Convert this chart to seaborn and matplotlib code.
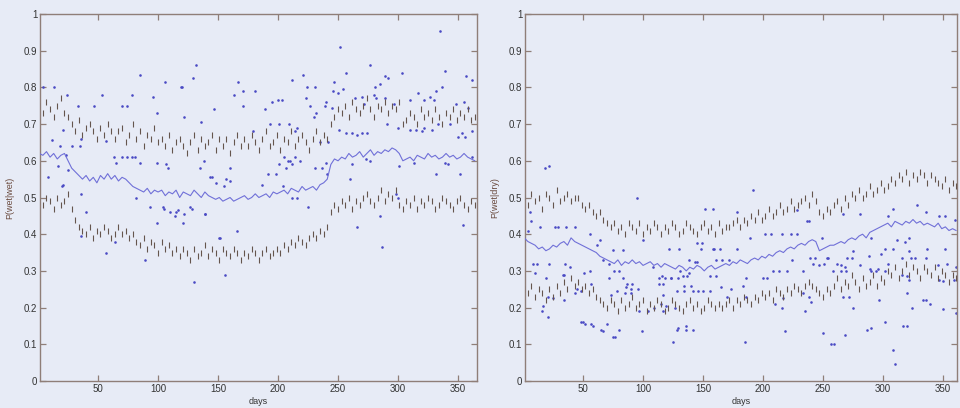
import numpy as np
import pandas as pd
import matplotlib
matplotlib.use("Agg")
import matplotlib.pyplot as plt
import seaborn as sns

# ---------------- data ----------------
STEP = 3  # bound / mean series sampled every 3 days starting at day 1

left_upper = [0.75,0.73,0.76,0.74,0.72,0.75,0.77,0.73,0.72,
              0.70,0.68,0.71,0.67,0.69,0.70,0.68,0.66,0.69,0.67,0.70,0.68,
              0.66,0.68,0.69,0.65,0.67,0.70,0.66,0.68,0.64,0.67,0.66,0.69,0.65,
              0.66,0.64,0.67,0.63,0.65,0.66,0.64,0.62,0.65,0.67,0.63,0.66,0.64,0.65,0.67,0.63,0.66,0.64,0.66,0.62,0.65,0.67,0.64,
              0.66,0.64,0.67,0.65,0.63,0.66,0.68,0.64,0.65,0.67,0.63,0.66,0.65,0.68,0.64,0.66,0.67,0.65,0.63,0.66,0.68,0.65,0.67,0.66,
              0.70,0.72,0.74,0.73,0.75,0.72,0.76,0.74,0.73,0.75,0.77,0.74,0.72,0.75,0.74,0.76,0.73,0.75,0.74,0.76,
              0.70,0.71,0.73,0.72,0.70,0.74,0.72,0.73,0.71,0.74,0.72,0.70,0.73,0.72,0.74,0.71,0.73,0.72,0.74,0.71,0.72]

left_mean = [0.62,0.615,0.625,0.61,0.62,0.605,0.615,0.62,0.60,
             0.58,0.57,0.56,
             0.55,0.56,0.545,0.555,0.54,0.56,0.55,0.565,0.55,0.56,0.545,0.555,0.55,
             0.54,0.53,0.525,0.52,0.515,0.525,0.51,0.52,0.515,
             0.52,0.505,0.515,0.51,0.52,0.50,0.515,0.51,0.505,0.52,0.51,0.50,0.515,
             0.505,0.50,0.495,0.50,0.49,0.495,0.50,0.49,0.495,0.50,0.505,0.495,0.50,0.51,0.50,0.505,0.51,0.50,0.515,0.51,
             0.515,0.52,0.51,0.525,0.52,0.515,0.53,0.52,0.525,0.53,0.52,0.535,0.54,0.55,
             0.59,0.605,0.60,0.61,0.605,0.62,0.61,0.615,0.625,0.61,0.62,0.63,0.615,0.625,0.62,0.63,0.625,0.635,0.63,
             0.62,0.60,0.605,0.61,0.60,0.615,0.61,0.605,0.62,0.61,0.615,0.605,0.61,0.62,0.61,0.615,0.605,0.61,0.62,0.61,0.605,0.60]

left_lower = [0.49,0.48,0.50,0.49,0.47,0.50,0.48,0.49,0.51,0.47,
              0.44,0.42,
              0.41,0.40,0.42,0.39,0.41,0.40,0.42,0.41,0.39,0.40,0.42,0.40,0.41,0.39,
              0.40,0.38,0.37,0.39,0.36,0.38,0.37,0.35,0.38,0.36,0.37,0.35,0.36,
              0.34,0.36,0.35,0.33,0.36,0.34,0.35,0.37,0.34,0.36,0.35,0.33,0.36,0.35,0.34,0.36,0.35,0.33,0.35,0.34,0.36,0.35,0.33,0.35,0.36,0.34,0.35,0.36,
              0.35,0.37,0.36,0.38,0.37,0.39,0.38,0.37,0.39,0.40,0.39,0.41,0.40,0.42,
              0.46,0.48,0.47,0.49,0.48,0.50,0.47,0.49,0.48,0.50,0.51,0.49,0.48,0.50,0.52,0.49,0.51,0.50,0.52,
              0.48,0.47,0.49,0.48,0.50,0.47,0.49,0.48,0.50,0.49,0.47,0.48,0.50,0.49,0.48,0.47,0.49,0.50,0.48,0.47,0.49,0.48]

right_upper = [0.50,0.48,0.51,0.49,0.50,0.47,0.51,0.50,0.48,0.52,0.49,0.50,0.51,0.49,0.50,
               0.50,0.48,0.47,0.48,0.46,0.45,0.46,0.44,0.43,
               0.42,0.43,0.41,0.42,0.40,0.43,0.42,0.41,0.43,0.40,0.42,0.41,0.43,0.42,0.40,0.42,0.41,0.43,0.42,0.40,0.41,0.43,0.42,0.41,0.40,0.42,0.43,0.41,0.42,0.40,0.43,0.41,0.42,
               0.42,0.43,0.44,0.42,0.44,0.43,0.45,0.44,0.46,0.44,0.45,0.47,0.45,0.46,0.48,0.46,0.47,0.49,0.47,0.48,
               0.49,0.50,0.48,0.51,0.49,
               0.46,0.45,0.47,0.46,0.48,
               0.49,0.47,0.50,0.48,0.51,0.50,0.52,0.50,0.51,0.53,0.51,0.52,0.54,0.52,0.53,0.55,
               0.54,0.56,0.55,0.57,0.54,0.56,0.55,0.57,0.56,0.54,0.56,0.55,0.54,
               0.53,0.55,0.52,0.54,0.53]

right_mean = [0.39,0.38,0.375,0.37,
              0.36,0.365,0.355,0.36,0.37,0.365,
              0.375,0.38,0.37,0.39,0.38,0.375,0.37,
              0.365,0.36,0.355,0.35,0.34,0.335,
              0.33,0.325,0.32,0.33,0.315,0.325,0.32,0.33,0.32,0.325,0.315,0.32,0.325,0.315,0.32,0.31,0.32,0.315,
              0.31,0.305,0.315,0.31,0.30,0.31,0.305,0.315,0.31,0.30,0.31,0.315,0.305,0.31,0.315,
              0.32,0.315,0.325,0.32,0.33,0.325,0.32,0.33,0.335,0.33,0.34,0.335,
              0.345,0.34,0.35,0.355,0.35,0.36,0.365,0.36,0.37,0.375,0.37,0.38,0.385,
              0.38,0.355,0.36,0.365,0.37,
              0.37,0.375,0.38,0.375,0.385,0.39,0.385,0.395,0.40,0.39,0.405,0.41,
              0.415,0.42,0.425,0.43,0.42,0.435,0.43,0.425,0.435,0.43,0.44,0.43,0.435,0.425,0.43,
              0.425,0.42,0.43,0.415,0.42,0.41,0.415,0.41]

right_lower = [0.25,0.24,0.26,0.23,0.25,0.24,0.22,0.25,0.23,0.26,0.24,0.27,0.25,0.28,0.26,
               0.27,0.25,0.26,0.24,0.25,0.23,
               0.22,0.21,0.20,0.22,0.21,0.19,0.22,0.20,0.21,0.23,0.20,0.21,0.22,0.19,0.21,0.20,0.22,0.21,0.19,0.20,0.22,0.21,0.20,0.19,0.21,0.22,0.20,0.21,0.19,0.20,0.22,0.21,0.20,0.21,0.20,
               0.21,0.22,0.20,0.22,0.21,0.23,0.22,0.21,0.23,0.22,0.24,
               0.23,0.24,0.22,0.25,0.24,0.23,0.25,0.24,0.26,0.25,0.24,0.26,0.27,0.26,
               0.25,0.24,0.23,0.25,0.24,
               0.26,0.28,0.25,0.27,0.26,0.29,0.27,0.25,0.28,0.26,0.27,0.29,0.26,0.28,0.27,
               0.30,0.29,0.31,0.28,0.30,0.32,0.29,0.31,0.30,0.28,0.31,0.30,0.29,0.31,0.28,0.30,0.29,0.27,0.29,0.28]

left_dot_days = [4,13,24,33,36,28,35,18,23,8,20,17,53,47,70,74,78,85,96,106,120,129,132,136,147,163,167,122,99,57,
                 63,70,74,78,81,85,99,108,65,138,135,143,145,157,160,
                 36,57,64,40,89,99,130,156,152,166,93,104,117,128,115,121,139,
                 119,36,21,25,21,12,82,105,110,114,107,
                 171,181,171,189,195,200,203,212,221,224,231,223,227,230,232,240,193,201,209,214,216,179,
                 201,205,208,210,214,192,198,207,212,218,231,237,148,155,160,187,122,139,127,151,225,212,216,204,241,
                 277,257,247,289,292,285,281,303,339,357,362,246,250,254,239,245,264,270,272,280,282,289,297,310,317,
                 322,327,332,337,330,355,358,348,291,300,310,315,320,322,328,333,343,350,356,353,362,235,242,251,257,
                 262,270,274,266,240,262,277,273,301,313,332,339,342,352,362,298,300,260,285,266,354,287,252,335]
left_dot_vals = [0.80,0.80,0.78,0.75,0.66,0.64,0.64,0.64,0.615,0.555,0.53,0.585,0.78,0.75,0.75,0.75,0.78,0.835,0.775,0.815,0.80,0.825,0.86,0.705,0.74,0.78,0.815,0.72,0.73,0.655,
                 0.61,0.61,0.61,0.61,0.61,0.595,0.595,0.58,0.595,0.60,0.58,0.555,0.555,0.55,0.58,
                 0.395,0.35,0.38,0.46,0.33,0.43,0.27,0.29,0.39,0.41,0.475,0.475,0.465,0.47,0.46,0.43,0.455,
                 0.80,0.51,0.533,0.575,0.684,0.657,0.50,0.47,0.46,0.45,0.59,
                 0.79,0.79,0.75,0.74,0.76,0.765,0.765,0.82,0.835,0.80,0.80,0.77,0.75,0.72,0.73,0.76,0.70,0.70,0.70,0.68,0.69,0.68,
                 0.59,0.61,0.60,0.60,0.61,0.565,0.565,0.58,0.59,0.60,0.58,0.58,0.54,0.53,0.545,0.535,0.455,0.455,0.475,0.39,0.475,0.50,0.50,0.53,0.565,
                 0.86,0.84,0.815,0.83,0.825,0.81,0.80,0.84,0.845,0.83,0.82,0.79,0.785,0.795,0.75,0.745,0.77,0.775,0.755,0.78,0.77,0.77,0.755,0.765,0.785,
                 0.765,0.775,0.79,0.80,0.765,0.76,0.745,0.755,0.70,0.69,0.685,0.685,0.68,0.69,0.685,0.70,0.70,0.665,0.665,0.675,0.68,0.65,0.652,0.685,0.675,
                 0.675,0.675,0.675,0.67,0.595,0.59,0.60,0.605,0.585,0.595,0.565,0.595,0.59,0.565,0.61,0.51,0.50,0.55,0.45,0.42,0.425,0.365,0.91,0.955]

right_dot_days = [18,22,95,6,7,14,27,29,36,43,4,56,8,12,22,33,34,10,51,35,19,45,48,21,25,16,17,21,48,52,58,67,77,80,99,125,128,136,
                  64,67,76,80,72,87,91,73,78,100,108,113,117,123,131,138,148,152,158,130,39,56,75,83,62,72,83,86,90,96,113,118,57,
                  34,43,85,90,109,115,97,104,117,50,57,65,70,75,
                  192,158,178,228,238,202,207,216,223,228,189,145,149,159,164,178,122,138,143,145,161,166,172,224,116,123,129,133,
                  137,156,161,200,203,186,208,213,220,183,134,140,165,173,117,128,134,142,146,150,156,170,186,217,119,127,210,216,
                  238,240,129,136,142,185,218,
                  308,328,336,347,352,360,267,281,304,237,322,312,318,249,290,302,308,322,337,352,275,288,298,239,243,253,254,270,
                  274,316,323,327,336,242,247,251,262,265,268,281,289,296,304,346,353,361,258,265,269,290,294,302,316,320,233,347,
                  350,359,320,233,267,272,322,297,333,336,324,339,350,275,235,302,290,320,361,250,268,259,308,310,257,287,317]
right_dot_vals = [0.58,0.585,0.50,0.46,0.435,0.42,0.42,0.42,0.42,0.42,0.41,0.40,0.32,0.32,0.32,0.29,0.29,0.295,0.295,0.32,0.28,0.25,0.245,0.23,0.225,0.19,0.205,0.175,0.16,0.155,0.15,0.135,0.12,0.14,0.135,0.105,0.14,0.14,
                  0.385,0.33,0.30,0.30,0.32,0.265,0.265,0.235,0.245,0.385,0.31,0.265,0.265,0.28,0.30,0.295,0.36,0.47,0.36,0.36,0.31,0.30,0.357,0.357,0.37,0.28,0.28,0.255,0.25,0.25,0.28,0.28,0.265,
                  0.22,0.24,0.24,0.24,0.20,0.21,0.19,0.19,0.19,0.16,0.155,0.14,0.155,0.12,
                  0.52,0.47,0.46,0.465,0.435,0.40,0.40,0.40,0.40,0.40,0.39,0.375,0.375,0.36,0.36,0.36,0.36,0.33,0.325,0.325,0.33,0.33,0.33,0.33,0.285,0.28,0.28,0.285,
                  0.285,0.285,0.286,0.28,0.28,0.28,0.30,0.30,0.30,0.26,0.26,0.258,0.255,0.25,0.235,0.245,0.245,0.245,0.245,0.245,0.245,0.23,0.23,0.225,0.205,0.20,0.21,0.20,
                  0.23,0.215,0.145,0.15,0.14,0.105,0.135,
                  0.47,0.48,0.46,0.45,0.45,0.44,0.455,0.455,0.45,0.435,0.39,0.385,0.38,0.39,0.39,0.36,0.36,0.355,0.36,0.36,0.355,0.34,0.345,0.335,0.335,0.335,0.335,0.335,
                  0.335,0.335,0.335,0.335,0.335,0.32,0.315,0.32,0.32,0.315,0.31,0.315,0.305,0.305,0.32,0.315,0.32,0.31,0.30,0.30,0.30,0.30,0.30,0.30,0.29,0.285,0.30,0.275,
                  0.272,0.275,0.24,0.24,0.23,0.23,0.275,0.22,0.22,0.22,0.20,0.21,0.195,0.20,0.19,0.16,0.145,0.15,0.185,0.13,0.125,0.10,0.085,0.045,0.10,0.14,0.15]

y_ticks = [0, 0.1, 0.2, 0.3, 0.4, 0.5, 0.6, 0.7, 0.8, 0.9, 1]
y_ticklabels = ["0", "0.1", "0.2", "0.3", "0.4", "0.5", "0.6", "0.7", "0.8", "0.9", "1"]
x_ticks = [50, 100, 150, 200, 250, 300, 350]
panel_ylabels = ["P(wet|wet)", "P(wet|dry)"]
x_label = "days"

# ---------------- style ----------------
BG = "#e7ebf6"
SPINE = "#8f7e78"
BOUND = "#65554d"
MEAN = "#7070d8"
DOT = "#4a4ac4"

sns.set_theme(style="ticks", rc={
    "figure.facecolor": BG, "axes.facecolor": BG, "savefig.facecolor": BG,
    "axes.edgecolor": SPINE, "axes.linewidth": 1.0,
    "xtick.color": SPINE, "ytick.color": SPINE,
    "xtick.labelcolor": "#333333", "ytick.labelcolor": "#333333",
    "xtick.direction": "in", "ytick.direction": "in",
    "xtick.top": True, "ytick.right": True,
    "xtick.major.size": 4, "ytick.major.size": 4,
    "xtick.major.width": 0.9, "ytick.major.width": 0.9,
})
plt.rcParams["font.family"] = ["Liberation Sans", "DejaVu Sans"]

fig = plt.figure(figsize=(9.6, 4.08), dpi=100)
ax_l = fig.add_axes([40/960, 27/408, 437/960, 367/408])
ax_r = fig.add_axes([525/960, 27/408, 432/960, 367/408])


def series_frame(vals):
    days = np.arange(1, 1 + STEP * len(vals), STEP)
    return pd.DataFrame({"day": days, "p": vals})


panels = [
    (ax_l, left_upper, left_mean, left_lower, left_dot_days, left_dot_vals, (1.6, 365.8)),
    (ax_r, right_upper, right_mean, right_lower, right_dot_days, right_dot_vals, (1.6, 361.7)),
]

for i, (ax, up, mn, lo, dd, dv, xl) in enumerate(panels):
    dots = pd.DataFrame({"day": dd, "p": dv})
    sns.scatterplot(data=dots, x="day", y="p", ax=ax, color=DOT, s=3.5,
                    linewidth=0, legend=False, zorder=2)
    for b in (up, lo):
        sns.scatterplot(data=series_frame(b), x="day", y="p", ax=ax, marker="|",
                        color=BOUND, s=18, linewidth=0.8, legend=False, zorder=3)
    sns.lineplot(data=series_frame(mn), x="day", y="p", ax=ax, color=MEAN,
                 linewidth=0.8, legend=False, zorder=4)
    ax.set_xlim(*xl)
    ax.set_ylim(0, 1)
    ax.set_yticks(y_ticks)
    ax.set_yticklabels(y_ticklabels)
    ax.set_xticks(x_ticks)
    ax.tick_params(labelsize=7, pad=2)
    ax.set_ylabel(panel_ylabels[i], fontsize=6.5, color="#6a4a3e", labelpad=7)
    ax.set_xlabel(x_label, fontsize=6.5, color="#333333", labelpad=2)
    for sp in ax.spines.values():
        sp.set_visible(True)

fig.savefig("out.png", dpi=100)
